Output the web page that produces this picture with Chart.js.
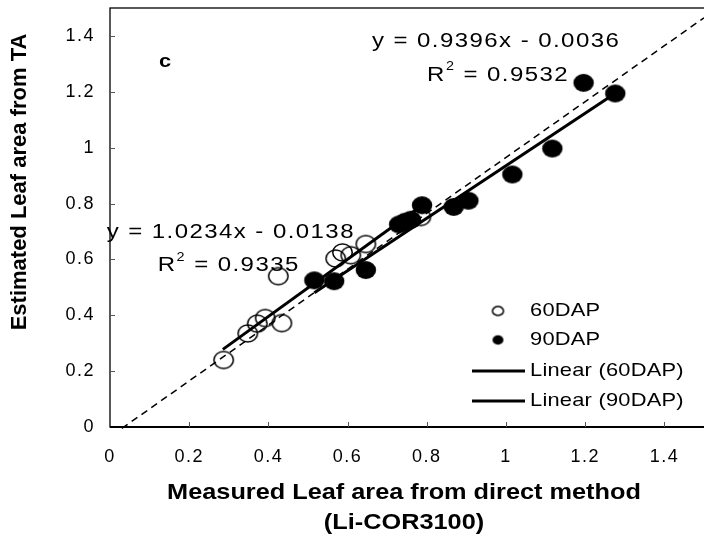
<!DOCTYPE html>
<html>
<head>
<meta charset="utf-8">
<script src="https://cdn.jsdelivr.net/npm/chart.js@4.4.1/dist/chart.umd.min.js"></script>
<style>
  html, body { margin: 0; padding: 0; background: #fff; }
  #wrap { width: 704px; height: 540px; position: relative; }
</style>
</head>
<body>
<div id="wrap"><canvas id="chart"></canvas></div>
<script>
// values
const dap60X = [0.287, 0.348, 0.372, 0.392, 0.434, 0.425, 0.570, 0.587, 0.608, 0.646, 0.785];
const dap60Y = [0.240, 0.335, 0.370, 0.390, 0.372, 0.540, 0.603, 0.625, 0.615, 0.655, 0.752];

const dap90X = [0.516, 0.566, 0.646, 0.730, 0.745, 0.760, 0.788, 0.868, 0.905, 1.016, 1.117, 1.196, 1.276];
const dap90Y = [0.525, 0.522, 0.562, 0.725, 0.735, 0.742, 0.794, 0.788, 0.810, 0.904, 0.997, 1.232, 1.194];

// trend line end points (Excel linear trendlines)
const linear60X = [0.285, 0.785];
const linear60Y = [0.278, 0.790];
const linear90X = [0.516, 1.276];
const linear90Y = [0.481, 1.195];

// dashed reference line
const refX = [0.03, 1.5];
const refY = [-0.005, 1.465];

const tickValues = [0, 0.2, 0.4, 0.6, 0.8, 1, 1.2, 1.4];

const eq60 = 'y = 1.0234x - 0.0138';
const r60 = '0.9335';
const eq90 = 'y = 0.9396x - 0.0036';
const r90 = '0.9532';

const xTitle = ['Measured Leaf area from direct method', '(Li-COR3100)'];
const yTitle = 'Estimated Leaf area from TA';

const toPoints = (xs, ys) => xs.map((x, i) => ({ x: x, y: ys[i] }));

// ellipse markers (the original is stretched a little horizontally)
function ellipseMarker(w, h, filled) {
  const c = document.createElement('canvas');
  c.width = w + 4;
  c.height = h + 4;
  const g = c.getContext('2d');
  g.beginPath();
  g.ellipse(c.width / 2, c.height / 2, w / 2, h / 2, 0, 0, Math.PI * 2);
  if (filled) {
    g.fillStyle = '#000';
    g.fill();
  } else {
    g.lineWidth = 1.5;
    g.strokeStyle = '#000';
    g.stroke();
  }
  return c;
}

const hollowMark = ellipseMarker(19.5, 17, false);
const solidMark = ellipseMarker(20.5, 18, true);
const hollowSmall = ellipseMarker(11, 9, false);
const solidSmall = ellipseMarker(11, 9.5, true);

const FONT = '"Liberation Sans", Arial, sans-serif';

// text drawn a bit wider than normal, like the stretched original
function wideText(ctx, text, x, y, font, stretch, spacing, align) {
  ctx.save();
  ctx.translate(x, y);
  ctx.scale(stretch, 1);
  ctx.font = font;
  ctx.letterSpacing = spacing + 'px';
  ctx.fillStyle = '#000';
  ctx.textAlign = align || 'left';
  ctx.textBaseline = 'middle';
  ctx.fillText(text, 0, 0);
  ctx.restore();
}

// "R² = value" centred at x
function rSquared(ctx, value, cx, cy) {
  ctx.save();
  ctx.translate(cx, cy);
  ctx.scale(1.2, 1);
  ctx.letterSpacing = '1.2px';
  ctx.font = '20px ' + FONT;
  const wR = ctx.measureText('R').width;
  const wRest = ctx.measureText(' = ' + value).width;
  ctx.font = '12px ' + FONT;
  const w2 = ctx.measureText('2').width;
  let x = -(wR + w2 + wRest) / 2;
  ctx.fillStyle = '#000';
  ctx.textBaseline = 'middle';
  ctx.textAlign = 'left';
  ctx.font = '20px ' + FONT;
  ctx.fillText('R', x, 0);
  x += wR;
  ctx.font = '12px ' + FONT;
  ctx.fillText('2', x, -8);
  x += w2;
  ctx.font = '20px ' + FONT;
  ctx.fillText(' = ' + value, x, 0);
  ctx.restore();
}

const decorPlugin = {
  id: 'decor',
  beforeDraw(chart) {
    chart.ctx.letterSpacing = '1.5px';
  },
  afterDraw(chart) {
    const ctx = chart.ctx;
    const a = chart.chartArea;
    const xs = chart.scales.x;
    const ys = chart.scales.y;

    // frame (right side runs off the picture)
    ctx.save();
    ctx.strokeStyle = '#000';
    ctx.lineWidth = 1.3;
    ctx.strokeRect(a.left, a.top, a.right - a.left + 4, a.bottom - a.top);
    ctx.lineWidth = 2;
    ctx.beginPath();
    ctx.moveTo(a.left, a.bottom);
    ctx.lineTo(a.right, a.bottom);
    ctx.stroke();

    // inward ticks
    ctx.lineWidth = 1;
    ctx.strokeStyle = '#555';
    ctx.beginPath();
    tickValues.slice(1).forEach(v => {
      const px = Math.round(xs.getPixelForValue(v)) + 0.5;
      ctx.moveTo(px, a.bottom);
      ctx.lineTo(px, a.bottom - 5);
      const py = Math.round(ys.getPixelForValue(v)) + 0.5;
      ctx.moveTo(a.left, py);
      ctx.lineTo(a.left + 5, py);
    });
    ctx.stroke();
    ctx.restore();

    // panel letter and regression texts
    wideText(ctx, 'c', xs.getPixelForValue(0.139), ys.getPixelForValue(1.306), 'bold 19px ' + FONT, 1.15, 0, 'center');
    wideText(ctx, eq90, xs.getPixelForValue(0.975), ys.getPixelForValue(1.38), '20px ' + FONT, 1.2, 1.2, 'center');
    rSquared(ctx, r90, xs.getPixelForValue(0.98), ys.getPixelForValue(1.26));
    wideText(ctx, eq60, xs.getPixelForValue(0.305), ys.getPixelForValue(0.695), '20px ' + FONT, 1.2, 1.2, 'center');
    rSquared(ctx, r60, xs.getPixelForValue(0.30), ys.getPixelForValue(0.578));

    // legend
    const legendRows = [
      { label: '60DAP', mark: hollowSmall },
      { label: '90DAP', mark: solidSmall },
      { label: 'Linear (60DAP)', line: true },
      { label: 'Linear (90DAP)', line: true }
    ];
    const rowY = [311, 340, 371, 401];
    legendRows.forEach((row, i) => {
      const y = rowY[i];
      if (row.line) {
        ctx.save();
        ctx.strokeStyle = '#000';
        ctx.lineWidth = 3;
        ctx.beginPath();
        ctx.moveTo(472, y);
        ctx.lineTo(525, y);
        ctx.stroke();
        ctx.restore();
      } else {
        ctx.drawImage(row.mark, 498 - row.mark.width / 2, y - row.mark.height / 2);
      }
      wideText(ctx, row.label, 530, y, '19px ' + FONT, 1.15, 0.2, 'left');
    });

    // axis titles
    wideText(ctx, xTitle[0], 404, 493, 'bold 22px ' + FONT, 1.15, 0, 'center');
    wideText(ctx, xTitle[1], 404, 523, 'bold 22px ' + FONT, 1.15, 0, 'center');
    ctx.save();
    ctx.translate(20, 182);
    ctx.rotate(-Math.PI / 2);
    wideText(ctx, yTitle, 0, 0, 'bold 22px ' + FONT, 1, 0, 'center');
    ctx.restore();
  }
};

const tickFmt = v => String(+v.toFixed(1));
const fixedTicks = scale => { scale.ticks = tickValues.map(v => ({ value: v })); };

new Chart(document.getElementById('chart'), {
  type: 'scatter',
  data: {
    datasets: [
      {
        label: 'Reference',
        type: 'line',
        data: toPoints(refX, refY),
        borderColor: '#000',
        borderWidth: 1.5,
        borderDash: [7, 5],
        pointRadius: 0,
        fill: false,
        clip: false,
        order: 0
      },
      {
        label: 'Linear (60DAP)',
        type: 'line',
        data: toPoints(linear60X, linear60Y),
        borderColor: '#000',
        borderWidth: 3,
        pointRadius: 0,
        fill: false,
        order: 0
      },
      {
        label: 'Linear (90DAP)',
        type: 'line',
        data: toPoints(linear90X, linear90Y),
        borderColor: '#000',
        borderWidth: 3,
        pointRadius: 0,
        fill: false,
        order: 0
      },
      {
        label: '60DAP',
        data: toPoints(dap60X, dap60Y),
        pointStyle: hollowMark,
        pointRadius: 9,
        order: 1
      },
      {
        label: '90DAP',
        data: toPoints(dap90X, dap90Y),
        pointStyle: solidMark,
        pointRadius: 10,
        order: 2
      }
    ]
  },
  options: {
    responsive: true,
    maintainAspectRatio: false,
    animation: false,
    events: [],
    layout: { autoPadding: false, padding: { top: 8, right: 0, left: 0, bottom: 0 } },
    plugins: {
      legend: { display: false },
      tooltip: { enabled: false }
    },
    scales: {
      x: {
        type: 'linear',
        min: 0,
        max: 1.5,
        grid: { display: false, drawTicks: false },
        border: { display: false },
        afterBuildTicks: fixedTicks,
        ticks: {
          padding: 19,
          color: '#000',
          maxRotation: 0,
          autoSkip: false,
          font: { family: FONT, size: 18 },
          callback: tickFmt
        },
        afterFit: scale => {
          scale.height = 113;
          scale.paddingLeft = 0;
          scale.paddingRight = 0;
        }
      },
      y: {
        type: 'linear',
        min: 0,
        max: 1.5,
        grid: { display: false, drawTicks: false },
        border: { display: false },
        afterBuildTicks: fixedTicks,
        ticks: {
          padding: 15,
          color: '#000',
          autoSkip: false,
          font: { family: FONT, size: 18 },
          callback: tickFmt
        },
        afterFit: scale => {
          scale.width = 110;
          scale.paddingTop = 0;
          scale.paddingBottom = 0;
        }
      }
    }
  },
  plugins: [decorPlugin]
});
</script>
</body>
</html>
